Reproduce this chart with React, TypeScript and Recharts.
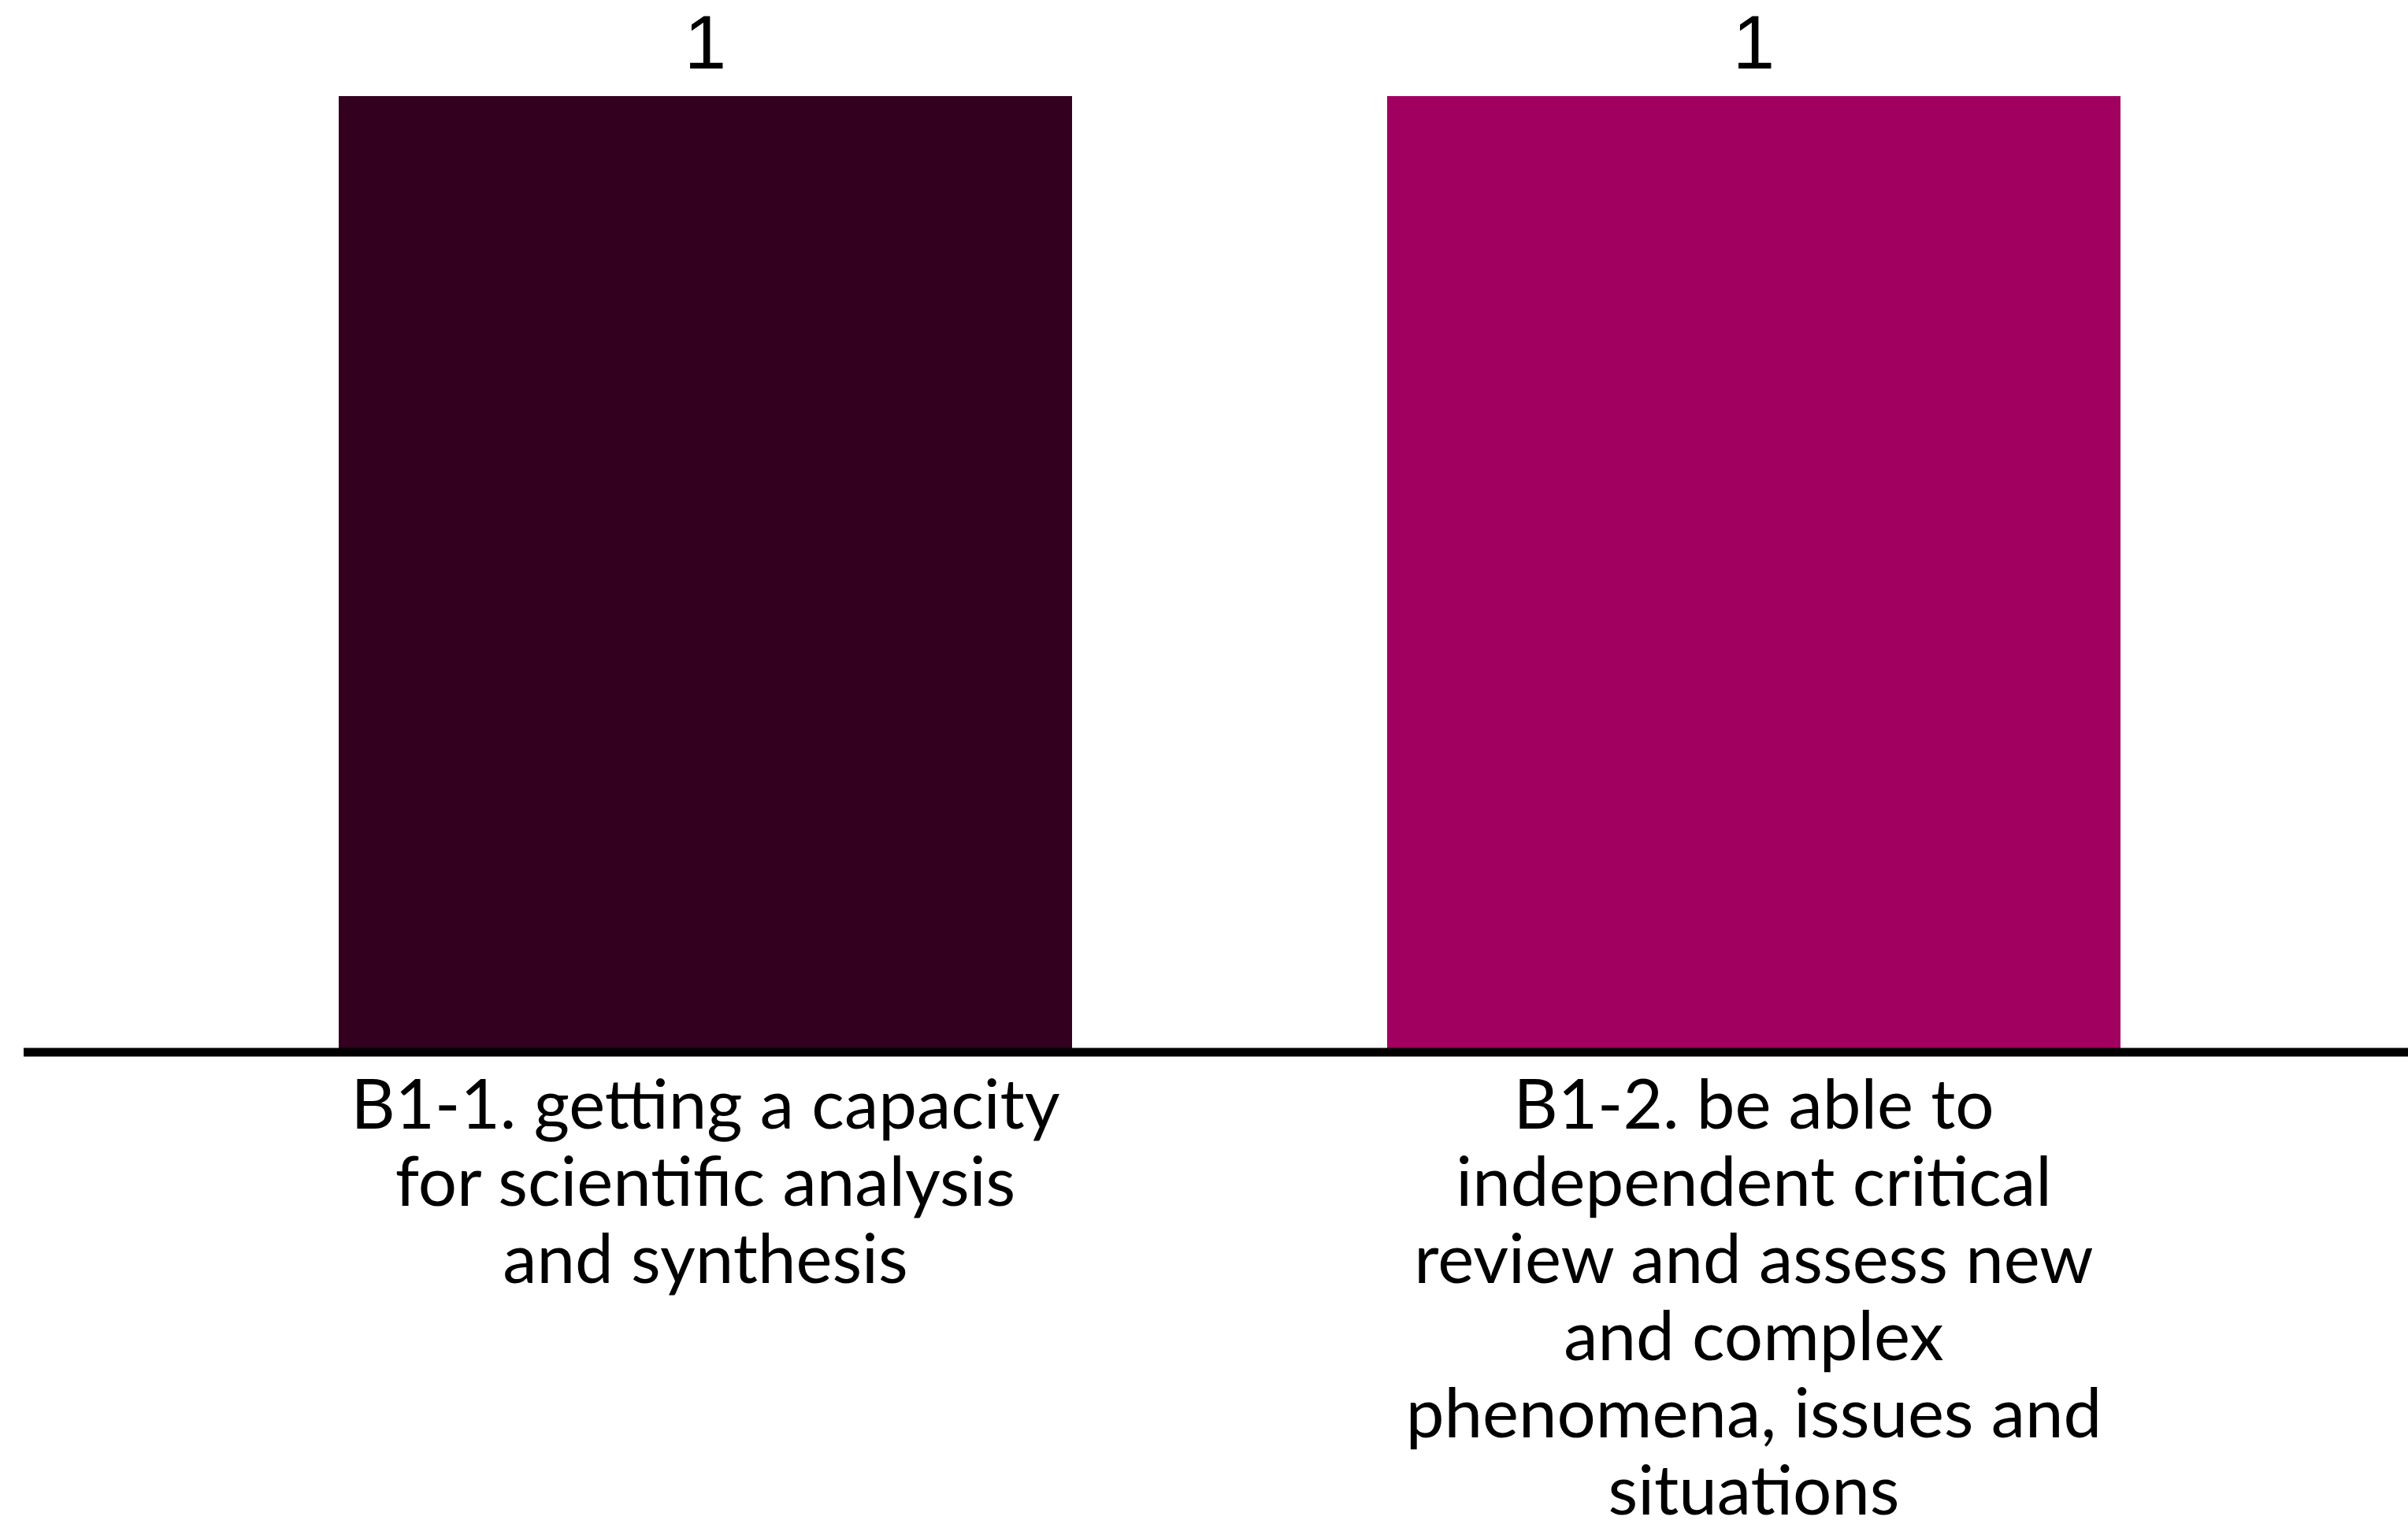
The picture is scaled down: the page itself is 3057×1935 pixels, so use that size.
import React from 'react';
import { BarChart, Bar, XAxis, YAxis, Cell, LabelList } from 'recharts';

const categories = ['B1-1', 'B1-2'];
const categoryLines = [
  ['B1-1. getting a capacity', 'for scientific analysis', 'and synthesis'],
  [
    'B1-2. be able to',
    'independent critical',
    'review and assess new',
    'and complex',
    'phenomena, issues and',
    'situations',
  ],
];
const counts = [1, 1];
const barColors = ['#33001f', '#a10060'];

const data = categories.map((name, i) => ({ name, value: counts[i] }));

function CategoryTick(props: any) {
  const { x, y, index } = props;
  const lines = categoryLines[index] || [];
  return (
    <g>
      {lines.map((line, i) => (
        <text
          key={i}
          x={x}
          y={y + 97 + i * 98}
          textAnchor="middle"
          fill="#000"
          fontFamily="Lato, 'Noto Sans', sans-serif"
          fontSize={87}
        >
          {line}
        </text>
      ))}
    </g>
  );
}

export default function App() {
  return (
    <div style={{ position: 'absolute', left: 0, top: 0, background: '#fff' }}>
      <BarChart
        width={3057}
        height={1935}
        data={data}
        margin={{ top: 122, right: 0, bottom: 0, left: 30 }}
      >
        <YAxis hide domain={[0, 1]} />
        <XAxis
          dataKey="name"
          height={599}
          interval={0}
          padding={{ left: 200, right: 165 }}
          axisLine={{ stroke: '#000', strokeWidth: 11 }}
          tickLine={false}
          tickSize={0}
          tickMargin={0}
          tick={<CategoryTick />}
        />
        <Bar dataKey="value" barSize={931} isAnimationActive={false}>
          {data.map((d, i) => (
            <Cell key={d.name} fill={barColors[i]} />
          ))}
          <LabelList
            dataKey="value"
            position="top"
            offset={35}
            fill="#000"
            fontSize={96}
            fontFamily="'Liberation Sans', Arial, sans-serif"
          />
        </Bar>
      </BarChart>
    </div>
  );
}
